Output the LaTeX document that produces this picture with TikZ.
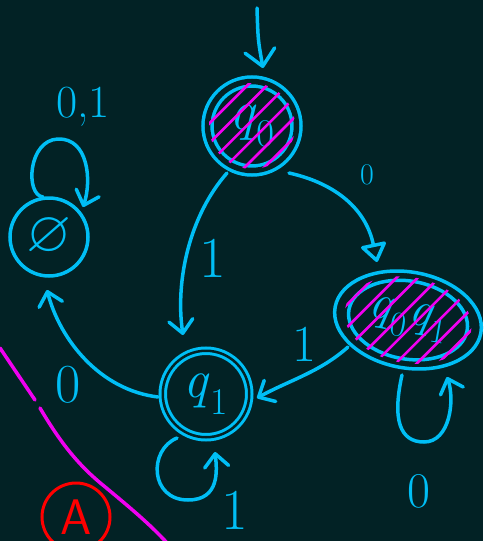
\documentclass[tikz,border=0pt]{standalone}
\usepackage{amssymb}
\usetikzlibrary{arrows.meta,calc,shapes.geometric}
\definecolor{bg}{RGB}{2,34,37}
\definecolor{cy}{RGB}{0,190,245}
\definecolor{mg}{RGB}{240,0,240}
\definecolor{rd}{RGB}{255,0,0}
\newcommand{\setfs}[1]{\fontsize{#1}{#1}\selectfont}
\newcommand{\qsub}[1]{\textit{q}\textsubscript{#1}}
\tikzset{
  ink/.style={draw=cy, line width=3.5pt, line cap=round, line join=round},
  arr/.style={ink, -{Straight Barb[length=13pt,width=24pt,round]}},
  tri/.style={ink, -{Triangle[open,length=20pt,width=28pt,round]}},
  hatch/.style={draw=mg, line width=2.6pt, line cap=round},
  lbl/.style={text=cy, inner sep=0pt},
  dstate/.style={circle, draw=cy, double=bg, text=cy, inner sep=0pt},
  sstate/.style={circle, draw=cy, line width=3.5pt, text=cy, inner sep=0pt},
}
\begin{document}
\begin{tikzpicture}[x=1pt,y=-1pt]
\fill[bg] (0,0) rectangle (483,541);
\useasboundingbox (0,0) rectangle (483,541);

% states
\node[dstate, line width=3.5pt, double distance=5.5pt, minimum size=89pt] (q0) at (252,126) {\setfs{56}\qsub{0}};
\node[dstate, line width=3pt, double distance=2.5pt, minimum size=86.5pt] (q1) at (206,394) {\setfs{54}\qsub{1}};
\node[sstate, minimum size=78pt] (phi) at (49,237) {\setfs{40}\scalebox{1.45}{$\varnothing$}};
\node[ellipse, draw=cy, line width=3.5pt, text=cy, inner sep=0pt, minimum width=148pt, minimum height=96pt, rotate=-10] (q01) at (408,320) {\setfs{50}\qsub{0}\qsub{1}};
\draw[ink, rotate around={-10:(q01.center)}] (q01.center) ellipse [x radius=60, y radius=39];

% hatching
\begin{scope}
  \clip (q0.center) circle (43);
  \foreach \o in {-32,-18,-4,10,24,38}
    \draw[hatch] ($(q0.center)+(\o*0.7071,\o*0.7071)+(-60,60)$) -- ++(120,-120);
\end{scope}
\begin{scope}
  \clip[rotate around={-10:(q01.center)}] (q01.center) ellipse [x radius=64, y radius=43];
  \foreach \o in {-54,-38,-23,-8,7,22,37,52}
    \draw[hatch] ($(q01.center)+(\o*0.7071,\o*0.7071)+(-80,80)$) -- ++(160,-160);
\end{scope}

% start arrow
\coordinate (start) at (257,8);
\draw[arr, -{Straight Barb[length=16pt,width=30pt,round]}] (start) .. controls (258,40) .. ($(q0.center)+(11,-58)$);

% transitions
\draw[tri] ($(q0.center)+(37,47)$) .. controls (330,182) and (365,205) .. ($(q01.center)+(-31,-58)$);
\draw[arr] ($(q0.center)+(-25,47)$) .. controls (190,215) and (175,280) .. ($(q1.center)+(-23,-59)$);
\draw[arr] ($(q01.center)+(-60,27)$) .. controls (320,372) and (290,380) .. ($(q1.center)+(51,4)$);
\draw[arr] ($(q1.center)+(-48,3)$) .. controls (100,390) and (60,340) .. ($(phi.center)+(-2,53)$);

% loops
\draw[arr] ($(phi.center)+(-6,-40)$) .. controls (25,195) and (28,140) .. (58,139) .. controls (88,138) and (92,180) .. ($(phi.center)+(34,-30)$);
\draw[arr] ($(q1.center)+(-29,44)$) .. controls (148,450) and (150,500) .. (188,500) .. controls (220,500) and (217,470) .. ($(q1.center)+(9,58)$);
\draw[arr] ($(q01.center)+(-6,55)$) .. controls (392,420) and (400,442) .. (424,442) .. controls (450,442) and (455,400) .. ($(q01.center)+(39,57)$);

% labels
\node[lbl, font=\setfs{46}] (l01) at (83,107) {0,1};
\node[lbl, font=\setfs{30}] (la) at (367,175) {0};
\node[lbl, font=\setfs{58}] (lb) at (213,258) {1};
\node[lbl, font=\setfs{52}] (lc) at (304,344) {1};
\node[lbl, font=\setfs{55}] (ld) at (68,385) {0};
\node[lbl, font=\setfs{58}] (le) at (235,510) {1};
\node[lbl, font=\setfs{50}] (lf) at (419,491) {0};

% magenta divider
\draw[mg, line width=3.5pt, line cap=round] (0,348) -- (35,400);
\draw[mg, line width=3.5pt, line cap=round] (40,408) .. controls (60,442) and (78,465) .. (104,486) .. controls (128,506) and (150,524) .. (168,544);

% red tag
\node[circle, draw=rd, line width=3pt, text=rd, minimum size=68pt, inner sep=0pt, font=\sffamily\setfs{50}] (tag) at (76,517) {A};
\end{tikzpicture}
\end{document}
